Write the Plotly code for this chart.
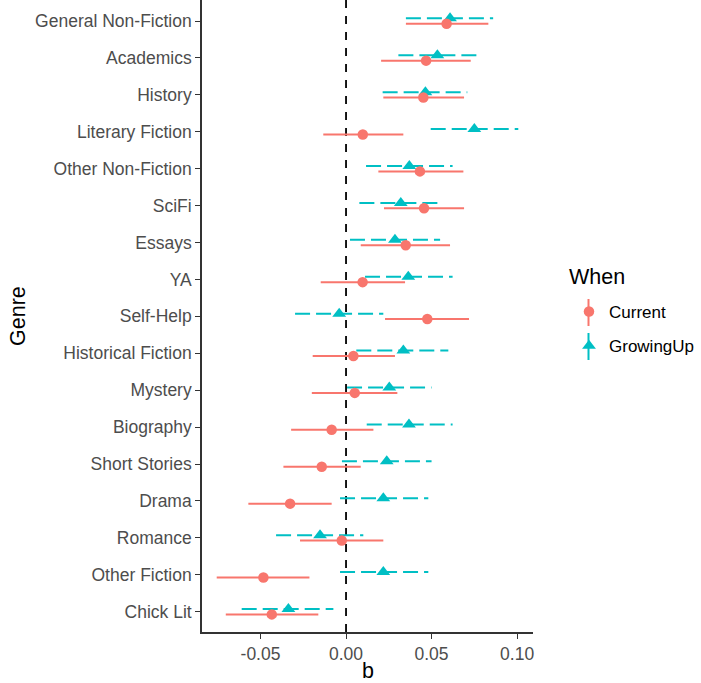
import plotly.graph_objects as go

# ---------------- data ----------------
genres = ["Chick Lit", "Other Fiction", "Romance", "Drama", "Short Stories",
          "Biography", "Mystery", "Historical Fiction", "Self-Help", "YA",
          "Essays", "SciFi", "Other Non-Fiction", "Literary Fiction", "History",
          "Academics", "General Non-Fiction"]

current_b = [-0.0434, -0.0483, -0.0025, -0.0327, -0.0142, -0.0084, 0.0051, 0.0043,
             0.0475, 0.0097, 0.0349, 0.0456, 0.0432, 0.0098, 0.0452, 0.0468, 0.0588]
current_lo = [-0.0703, -0.0756, -0.0269, -0.0571, -0.0366, -0.0321, -0.0200, -0.0195,
              0.0228, -0.0148, 0.0086, 0.0222, 0.0189, -0.0133, 0.0218, 0.0205, 0.0350]
current_hi = [-0.0162, -0.0214, 0.0218, -0.0084, 0.0086, 0.0160, 0.0300, 0.0286,
              0.0719, 0.0345, 0.0608, 0.0690, 0.0686, 0.0335, 0.0690, 0.0729, 0.0832]

growing_b = [-0.0337, 0.0218, -0.0152, 0.0218, 0.0238, 0.0368, 0.0253, 0.0335,
             -0.0040, 0.0364, 0.0286, 0.0320, 0.0370, 0.0750, 0.0464, 0.0534, 0.0608]
growing_lo = [-0.0610, -0.0035, -0.0409, -0.0035, -0.0024, 0.0121, 0.0006, 0.0060,
              -0.0298, 0.0111, 0.0023, 0.0078, 0.0117, 0.0495, 0.0214, 0.0306, 0.0350]
growing_hi = [-0.0074, 0.0481, 0.0101, 0.0481, 0.0500, 0.0623, 0.0500, 0.0598,
              0.0218, 0.0623, 0.0550, 0.0534, 0.0623, 0.1007, 0.0709, 0.0764, 0.0860]

x_ticks = [-0.05, 0.0, 0.05, 0.10]
x_tick_labels = ["-0.05", "0.00", "0.05", "0.10"]

# ---------------- style ----------------
RED = "#F8766D"
TEAL = "#00BFC4"
DODGE = 0.073
FONT = "Liberation Sans, Arial, Helvetica, sans-serif"
TICK_COLOR = "#4D4D4D"

L, R, T, B = 202, 168, 0, 51
W, H = 701, 683
PW, PH = W - L - R, H - T - B


def px_x(p):
    return (p - L) / PW


def px_y(p):
    return 1 - (p - T) / PH


def segments(lo, hi, pos):
    xs, ys = [], []
    for a, b, p in zip(lo, hi, pos):
        xs += [a, b, None]
        ys += [p, p, None]
    return xs, ys


idx = list(range(len(genres)))
pos_cur = [i - DODGE for i in idx]
pos_gu = [i + DODGE for i in idx]

fig = go.Figure()

gx, gy = segments(growing_lo, growing_hi, pos_gu)
cx, cy = segments(current_lo, current_hi, pos_cur)

fig.add_trace(go.Scatter(x=gx, y=gy, mode="lines", showlegend=False,
                         line=dict(color=TEAL, width=2, dash="15px,6px"),
                         hoverinfo="skip"))
fig.add_trace(go.Scatter(x=cx, y=cy, mode="lines", showlegend=False,
                         line=dict(color=RED, width=2),
                         hoverinfo="skip"))
fig.add_trace(go.Scatter(x=growing_b, y=pos_gu, mode="markers", name="GrowingUp",
                         legendrank=2, legendgroup="g",
                         marker=dict(symbol="triangle-up", size=12, color=TEAL,
                                     line=dict(width=0))))
fig.add_trace(go.Scatter(x=current_b, y=pos_cur, mode="markers", name="Current",
                         legendrank=1, legendgroup="c",
                         marker=dict(symbol="circle", size=10.5, color=RED,
                                     line=dict(width=0))))

fig.add_shape(type="line", x0=0, x1=0, xref="x", y0=0, y1=1, yref="paper",
              line=dict(color="black", width=1.8, dash="8px,8px"), layer="below")

# legend key range strokes (pointrange-style keys)
KEY_X = 588.5
fig.add_shape(type="line", xref="paper", yref="paper", x0=px_x(KEY_X), x1=px_x(KEY_X),
              y0=px_y(299), y1=px_y(326), line=dict(color=RED, width=2), layer="above")
fig.add_shape(type="line", xref="paper", yref="paper", x0=px_x(KEY_X), x1=px_x(KEY_X),
              y0=px_y(333), y1=px_y(360), line=dict(color=TEAL, width=2), layer="above")

fig.update_layout(
    width=W, height=H,
    margin=dict(l=L, r=R, t=T, b=B),
    paper_bgcolor="white", plot_bgcolor="white",
    font=dict(family=FONT, color="black"),
    xaxis=dict(range=[-0.0842, 0.1093], tickvals=x_ticks, ticktext=x_tick_labels,
               showgrid=False, zeroline=False, showline=True, linecolor="#333333",
               linewidth=1.6, ticks="outside", ticklen=5, tickwidth=1.4,
               tickcolor="#333333", tickfont=dict(size=17.5, color=TICK_COLOR)),
    yaxis=dict(range=[-0.55, 16.57], tickvals=idx, ticktext=genres,
               showgrid=False, zeroline=False, showline=True, linecolor="#333333",
               linewidth=1.6, ticks="outside", ticklen=5, tickwidth=1.4,
               tickcolor="#333333", tickfont=dict(size=17.5, color=TICK_COLOR)),
    legend=dict(x=px_x(700), xanchor="right", y=px_y(294), yanchor="top",
                font=dict(size=17, color="black"), tracegroupgap=9,
                itemwidth=30, bgcolor="rgba(0,0,0,0)"),
    annotations=[
        dict(text="Genre", x=px_x(18), y=0.5, xref="paper", yref="paper",
             textangle=-90, showarrow=False, font=dict(size=21.5),
             xanchor="center", yanchor="middle"),
        dict(text="b", x=px_x(368), y=px_y(671), xref="paper", yref="paper",
             showarrow=False, font=dict(size=21.5), xanchor="center",
             yanchor="middle"),
        dict(text="When", x=px_x(567), y=px_y(277), xref="paper", yref="paper",
             showarrow=False, font=dict(size=21.5), xanchor="left",
             yanchor="middle"),
    ],
)

fig.write_html("out.html", config={"displayModeBar": False},
               post_script="document.body.style.margin='0px';")
